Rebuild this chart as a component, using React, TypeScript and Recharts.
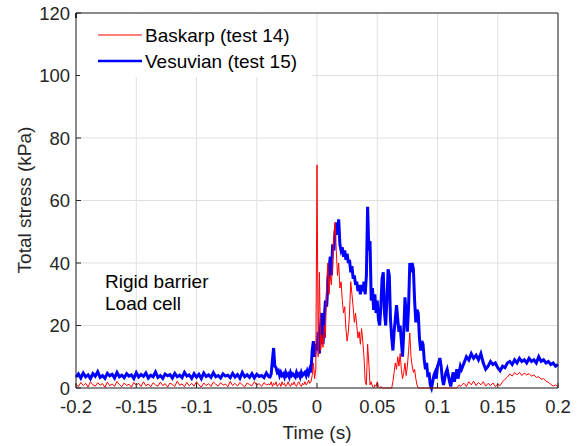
import { LineChart, Line, XAxis, YAxis, CartesianGrid, Legend } from 'recharts';

// time grid: coarse before the impact, fine around it, coarse again afterwards
const range = (start: number, stop: number, step: number) => {
  const out: number[] = [];
  const n = Math.round((stop - start) / step);
  for (let i = 0; i <= n; i++) out.push(Number((start + i * step).toFixed(4)));
  return out;
};
const time = [...range(-0.2, -0.04, 0.002), ...range(-0.039, 0.12, 0.001), ...range(0.122, 0.2, 0.002)];

// Vesuvian (test 15), kPa
const vesuvianBefore = [
  3.5, 4.5, 3.2, 4.8, 3.6, 4.2, 3.0, 4.6, 3.8, 5.2,
  3.4, 4.0, 3.1, 4.7, 3.9, 4.4, 3.2, 5.0, 3.6, 4.1,
  3.3, 4.6, 3.8, 4.2, 3.0, 4.9, 3.5, 4.3, 3.7, 4.8,
  3.2, 4.1, 3.6, 5.1, 3.4, 4.0, 3.1, 4.5, 3.9, 4.3,
  3.2, 4.7, 3.6, 4.1, 3.3, 5.0, 3.8, 4.2, 3.1, 4.6,
  3.5, 4.4, 3.0, 4.8, 3.7, 4.2, 3.4, 4.9, 3.6, 4.0,
  3.2, 4.5, 3.8, 4.1, 3.3, 4.7, 3.5, 4.3, 3.1, 5.0,
  3.6, 4.2, 3.4, 4.6, 3.2, 4.4, 3.7, 4.0, 3.3, 4.8,
  3.6,
];
const vesuvianImpact = [
  3.5, 4.5, 9, 12.8, 7, 6.5, 5, 5.5, 4, 5,
  4, 4.5, 3.5, 5, 4, 4.5, 3.5, 5, 4, 4.5,
  4, 3.5, 5, 4, 4.5, 3.5, 5, 4, 4.5, 5,
  4, 5.5, 4.5, 6, 5, 12, 15, 10, 14, 12,
  18, 11, 20, 24, 14, 22, 28, 26, 33, 38,
  42, 36, 46, 44, 50, 53, 49, 54, 46, 44,
  45, 42, 44, 41, 43, 40, 41, 37, 39, 35,
  36, 33, 34, 31, 33, 30, 33, 31, 34, 30,
  36, 58, 44, 47, 28, 32, 25, 30, 24, 28,
  22, 20, 26, 35, 37, 24, 20, 28, 38, 36,
  22, 16, 12, 18, 22, 26.5, 22, 18, 20, 15,
  10, 18, 29, 24, 18, 26, 40, 37, 40, 38,
  28, 21, 25, 24, 16, 12, 15, 14, 9, 6,
  8, 3.5, 5, 1, 0, 2, 4, 5, 3, 7,
  8, 9.6, 7, 3, 1, 3, 5, 6, 4, 2,
  0.5, 3, 5, 2, 4, 6, 3, 5, 7, 6,
];
const vesuvianAfter = [
  8, 10, 9, 11, 9.5, 10.5, 9, 11, 8, 6,
  7, 8.5, 7.5, 8, 6.5, 5.5, 7, 6.5, 8, 8.5,
  7.5, 9, 8, 9.5, 8.5, 9, 8, 9.5, 8.5, 9,
  8, 10, 8.5, 9, 8, 8.5, 7.5, 8, 7, 7.5,
];

// Baskarp (test 14), kPa
const baskarpBefore = [
  1.2, 0.4, 1.8, 0.8, 1.5, 0.3, 2.0, 1.0, 0.6, 1.7,
  0.9, 1.4, 0.2, 1.9, 0.7, 1.3, 0.5, 2.1, 1.1, 0.4,
  1.6, 0.8, 1.2, 0.3, 1.8, 0.9, 1.5, 0.5, 2.0, 0.7,
  1.3, 0.4, 1.7, 1.0, 0.6, 1.9, 0.8, 1.4, 0.3, 1.6,
  1.1, 0.5, 2.2, 0.9, 1.3, 0.4, 1.8, 0.7, 1.5, 0.6,
  2.0, 1.0, 0.3, 1.6, 0.8, 1.4, 0.5, 1.9, 1.2, 0.6,
  1.7, 0.9, 1.3, 0.4, 2.1, 0.8, 1.5, 0.6, 1.8, 1.0,
  0.4, 1.6, 1.1, 0.7, 2.0, 0.9, 1.4, 0.5, 1.7, 1.0,
  1.3,
];
const baskarpImpact = [
  1, 2, 0.5, 1.5, 1, 2, 0.5, 1, 1.5, 0.5,
  2, 1, 1.5, 0.5, 1, 2, 1, 0.5, 1.5, 1,
  2, 1, 0.5, 1.5, 2, 1, 0.5, 1.5, 1, 2,
  1, 1.5, 2.5, 1.5, 2, 4, 8, 3, 6, 71.4,
  10, 37, 12, 17, 13, 20, 16, 34, 40, 30,
  36, 33, 42, 48, 53, 44, 36, 40, 32, 34,
  28, 24, 26, 19, 15, 18, 24, 34, 30, 26,
  21, 24, 20, 16, 18, 14, 19, 15, 10, 2,
  1, 14, 8, 1, 2, 0.5, 0, 1, 0.5, 2,
  0.5, 0, 0.5, 0, 0, 0, 0, 0, 0, 0,
  0, 0, 2, 5, 8, 6, 10, 7, 11, 6,
  3, 5, 8, 4, 7, 12, 17.6, 10, 7, 5,
  6, 3, 1, 0, 0, 0, 0, 0, 0, 0,
  0, 0, 0, 0, 0, 0, 0, 0, 0, 0,
  0, 0, 0, 0, 0, 0, 0, 0, 0, 0,
  0, 0, 0, 0, 0, 0, 0.5, 1, 0.5, 1,
];
const baskarpAfter = [
  1.5, 0.5, 2, 1, 2.2, 0.8, 1.8, 1, 2, 0.6,
  1.5, 0.8, 1.6, 0.5, 1.2, 0.8, 2, 2.8, 3.5, 4.5,
  3.8, 5, 4.2, 5, 4, 4.8, 4.2, 4.6, 3.8, 4.2,
  3.4, 3.6, 2.8, 3, 2.2, 1.8, 1.2, 0.6, 1, 0.3,
];

const vesuvian = [...vesuvianBefore, ...vesuvianImpact, ...vesuvianAfter];
const baskarp = [...baskarpBefore, ...baskarpImpact, ...baskarpAfter];

const xTicks = [-0.2, -0.15, -0.1, -0.05, 0, 0.05, 0.1, 0.15, 0.2];
const xTickLabels = ['-0.2', '-0.15', '-0.1', '-0.05', '0', '0.05', '0.1', '0.15', '0.2'];
const yTicks = [0, 20, 40, 60, 80, 100, 120];

const rows = time.map((t, i) => ({ t, baskarp: baskarp[i], vesuvian: vesuvian[i] }));

const AXIS = '#262626';
const FONT = '"Liberation Sans", Arial, sans-serif';

const BottomTick = (props: any) => {
  const { x, y, index } = props;
  return (
    <g>
      <line x1={x} y1={y} x2={x} y2={y - 5} stroke={AXIS} />
      <text x={x} y={y + 25} textAnchor="middle" fill={AXIS} fontSize={18.5} fontFamily={FONT}>
        {xTickLabels[index]}
      </text>
    </g>
  );
};

const TopTick = (props: any) => {
  const { x, y } = props;
  return <line x1={x} y1={y} x2={x} y2={y + 5} stroke={AXIS} />;
};

const LeftTick = (props: any) => {
  const { x, y, payload } = props;
  return (
    <g>
      <line x1={x} y1={y} x2={x + 5} y2={y} stroke={AXIS} />
      <text x={x - 6} y={y + 6.5} textAnchor="end" fill={AXIS} fontSize={18.5} fontFamily={FONT}>
        {payload.value}
      </text>
    </g>
  );
};

const RightTick = (props: any) => {
  const { x, y } = props;
  return <line x1={x} y1={y} x2={x - 5} y2={y} stroke={AXIS} />;
};

const legendItems = [
  { label: 'Baskarp (test 14)', color: '#ff0000', width: 1 },
  { label: 'Vesuvian (test 15)', color: '#0000ff', width: 2.5 },
];

const LegendBox = () => (
  <svg width={232} height={63} style={{ display: 'block', background: '#fff' }}>
    {legendItems.map((item, i) => (
      <g key={item.label}>
        <line x1={18} x2={62} y1={21 + i * 26} y2={21 + i * 26} stroke={item.color} strokeWidth={item.width} />
        <text x={65} y={28 + i * 26} fontSize={19} fontFamily={FONT} fill="#000">
          {item.label}
        </text>
      </g>
    ))}
  </svg>
);

export default function App() {
  return (
    <div style={{ position: 'absolute', left: 0, top: 0, width: 577, height: 446, background: '#fff' }}>
      <LineChart width={577} height={446} data={rows} margin={{ top: 12, right: 18, bottom: 0, left: 0 }}>
        <CartesianGrid stroke="#e0e0e0" />
        <XAxis
          dataKey="t"
          type="number"
          domain={[-0.2, 0.2]}
          ticks={xTicks}
          interval={0}
          tick={<BottomTick />}
          tickLine={false}
          tickSize={0}
          tickMargin={0}
          axisLine={{ stroke: AXIS }}
          height={58}
        />
        <XAxis
          xAxisId="top"
          orientation="top"
          type="number"
          domain={[-0.2, 0.2]}
          ticks={xTicks}
          interval={0}
          tick={<TopTick />}
          tickLine={false}
          tickSize={0}
          tickMargin={0}
          axisLine={{ stroke: AXIS }}
          height={1}
        />
        <YAxis
          type="number"
          domain={[0, 120]}
          ticks={yTicks}
          interval={0}
          tick={<LeftTick />}
          tickLine={false}
          tickSize={0}
          tickMargin={0}
          axisLine={{ stroke: AXIS }}
          width={76}
        />
        <YAxis
          yAxisId="right"
          orientation="right"
          type="number"
          domain={[0, 120]}
          ticks={yTicks}
          interval={0}
          tick={<RightTick />}
          tickLine={false}
          tickSize={0}
          tickMargin={0}
          axisLine={{ stroke: AXIS }}
          width={1}
        />
        <Line dataKey="vesuvian" stroke="#0000ff" strokeWidth={3} dot={false} isAnimationActive={false} />
        <Line dataKey="baskarp" stroke="#ff0000" strokeWidth={1} dot={false} isAnimationActive={false} />
        <Legend
          layout="vertical"
          align="center"
          verticalAlign="middle"
          content={<LegendBox />}
          wrapperStyle={{ left: 80, top: 14, width: 232, height: 63 }}
        />
      </LineChart>
      <svg width={577} height={446} style={{ position: 'absolute', left: 0, top: 0, pointerEvents: 'none' }}>
        <text x={105} y={288} fontSize={19} fontFamily={FONT} fill="#000">Rigid barrier</text>
        <text x={105} y={310} fontSize={19} fontFamily={FONT} fill="#000">Load cell</text>
        <text x={317} y={439} textAnchor="middle" fontSize={19} fontFamily={FONT} fill={AXIS}>Time (s)</text>
        <text x={31} y={200} textAnchor="middle" fontSize={19} fontFamily={FONT} fill={AXIS} transform="rotate(-90, 31, 200)">
          Total stress (kPa)
        </text>
      </svg>
    </div>
  );
}
